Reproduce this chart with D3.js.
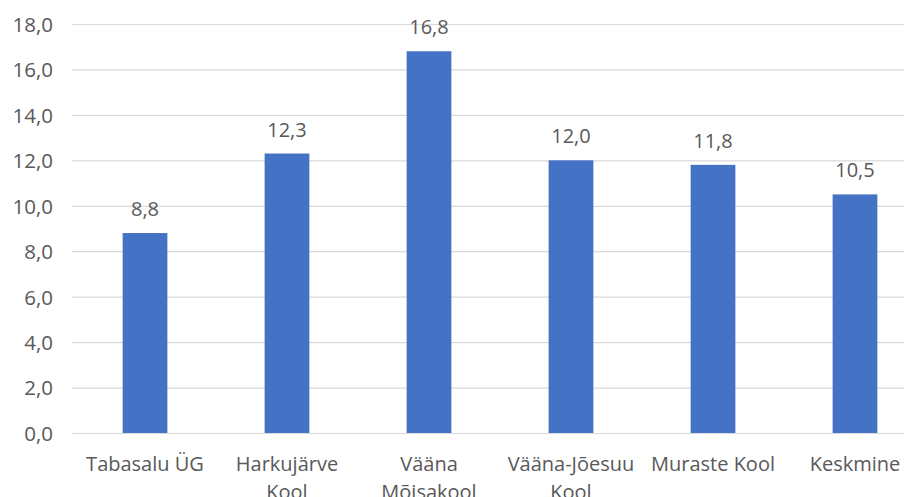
<!DOCTYPE html>
<html><head><meta charset="utf-8">
<script src="https://cdn.jsdelivr.net/npm/d3@7"></script>
<style>
body{margin:0;background:#fff;}
text{font-family:"Open Sans","Noto Sans",sans-serif;fill:#595959;}
</style></head>
<body>
<svg id="chart" width="904" height="497"></svg>
<script>
const categories = [["Tabasalu ÜG"],["Harkujärve","Kool"],["Vääna","Mõisakool"],["Vääna-Jõesuu","Kool"],["Muraste Kool"],["Keskmine"]];
const values = [8.8, 12.3, 16.8, 12.0, 11.8, 10.5];
const yTicks = [0,2,4,6,8,10,12,14,16,18];

const svg = d3.select("#chart");
const x = d3.scaleBand().domain(d3.range(categories.length)).range([74, 926]).paddingInner(0.685).paddingOuter(0.3425);
const y = d3.scaleLinear().domain([0,18]).range([433, 24]);
const fmt = v => d3.format(".1f")(v).replace(".", ",");

// gridlines
svg.append("g").selectAll("line").data(yTicks).join("line")
  .attr("x1", 72).attr("x2", 904)
  .attr("y1", d => y(d)+0.5).attr("y2", d => y(d)+0.5)
  .attr("stroke", "#d9d9d9").attr("stroke-width", 1.2);

// y axis labels
const yAxis = d3.axisLeft(y).tickValues(yTicks).tickFormat(fmt).tickSize(0).tickPadding(0);
const ga = svg.append("g").attr("transform", "translate(53,0)").call(yAxis);
ga.select(".domain").remove();
ga.selectAll("text").attr("font-size", 20.5).attr("fill", "#595959").attr("font-family", null).attr("dy", "0.36em");

// bars
svg.append("g").selectAll("rect").data(values).join("rect")
  .attr("x", (d,i) => x(i)).attr("width", x.bandwidth())
  .attr("y", d => y(d)).attr("height", d => y(0) - y(d))
  .attr("fill", "#4472C4");

// value labels
svg.append("g").selectAll("text").data(values).join("text")
  .attr("x", (d,i) => x(i) + x.bandwidth()/2)
  .attr("y", d => y(d) - 17)
  .attr("text-anchor", "middle").attr("font-size", 20)
  .text(d => fmt(d));

// category labels
const cg = svg.append("g").selectAll("text").data(categories).join("text")
  .attr("text-anchor", "middle").attr("font-size", 20)
  .attr("x", (d,i) => x(i) + x.bandwidth()/2)
  .attr("y", 471);
cg.selectAll("tspan").data(d => d).join("tspan")
  .attr("x", function(){ return d3.select(this.parentNode).attr("x"); })
  .attr("dy", (d,i) => i === 0 ? 0 : 28)
  .text(d => d);
</script>
</body></html>
